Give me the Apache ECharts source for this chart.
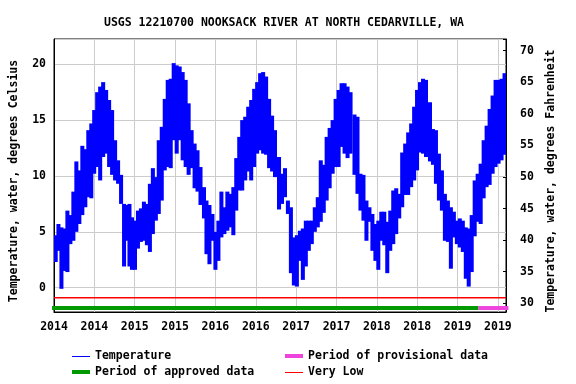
<!DOCTYPE html>
<html><head><meta charset="utf-8">
<script src="https://cdn.jsdelivr.net/npm/echarts@6/dist/echarts.min.js"></script>
<style>html,body{margin:0;padding:0;background:#fff}#c{width:576px;height:384px}</style>
</head><body><div id="c"></div>
<script>
// ---- data (decimal years; temperatures in deg C) ----
const times = [
 2014.021,2014.055,2014.092,2014.129,2014.166,2014.203,2014.240,2014.277,2014.314,2014.351,2014.388,2014.425,2014.462,2014.498,2014.535,2014.572,2014.609,2014.646,2014.683,2014.720,2014.757,2014.794,2014.831,2014.868,2014.905,2014.935,
 2014.966,2015.003,2015.040,2015.077,2015.114,2015.151,2015.188,2015.225,2015.262,2015.298,2015.335,2015.372,2015.409,2015.446,2015.483,2015.520,2015.557,2015.594,2015.631,2015.668,2015.705,2015.742,2015.778,2015.815,2015.858,
 2015.889,2015.926,2015.963,2016.000,2016.037,2016.074,2016.111,2016.148,2016.185,2016.222,2016.258,2016.295,2016.332,2016.369,2016.406,2016.443,2016.480,2016.517,2016.554,2016.591,2016.628,2016.665,2016.702,2016.738,2016.788,
 2016.825,2016.862,2016.898,2016.935,2016.972,2017.009,2017.046,2017.083,2017.120,2017.157,2017.194,2017.231,2017.268,2017.305,2017.342,2017.378,2017.415,2017.452,2017.489,2017.526,2017.563,2017.600,2017.637,2017.674,2017.723,
 2017.760,2017.797,2017.834,2017.871,2017.908,2017.945,2017.982,2018.018,2018.055,2018.092,2018.129,2018.166,2018.203,2018.240,2018.277,2018.314,2018.351,2018.388,2018.425,2018.462,2018.498,2018.535,2018.572,2018.609,2018.658,
 2018.695,2018.732,2018.769,2018.806,2018.843,2018.880,2018.917,2018.954,2018.991,2019.028,2019.065,2019.102,2019.138,2019.175,2019.212,2019.249,2019.286,2019.323,2019.360,2019.397,2019.434,2019.471,2019.508,2019.545,2019.582
];
const tempHigh = [
 4.7,5.7,5.4,5.3,6.9,6.5,8.6,11.3,10.5,12.7,12.4,14.1,14.7,15.9,17.5,18.0,18.4,17.7,16.8,15.9,13.2,11.4,10.1,7.5,7.4,7.5,
 6.3,6.0,6.9,7.1,7.7,7.5,9.3,10.7,9.9,13.2,14.4,16.9,18.6,18.7,20.1,19.9,19.8,19.3,18.6,16.5,14.1,12.9,12.3,10.8,9.0,
 7.8,7.4,6.6,5.0,6.0,8.6,7.2,8.6,8.4,9.0,11.6,13.5,15.0,15.3,16.2,16.8,17.8,18.4,19.2,19.3,18.9,16.9,15.4,14.1,11.7,
 10.2,10.7,7.8,7.2,4.5,4.7,5.1,5.3,6.0,6.0,6.0,7.2,8.1,11.4,11.0,13.5,14.3,15.0,16.9,17.7,18.3,18.3,18.0,17.5,15.5,
 15.3,10.2,10.1,7.8,7.2,6.6,5.7,6.0,6.8,6.8,5.9,6.9,8.7,8.9,8.4,12.1,12.9,13.9,14.7,16.2,17.7,18.4,18.7,18.6,16.6,
 14.2,14.1,12.0,10.5,8.4,7.8,7.2,6.8,6.0,6.2,6.0,5.4,5.3,6.5,9.6,10.2,11.1,13.2,14.5,16.0,17.2,18.6,18.6,18.7,19.2
];
const tempLow = [
 2.3,3.3,-0.1,1.5,1.4,3.9,4.2,5.0,5.7,6.5,7.2,8.1,8.0,10.2,10.8,9.6,11.7,12.0,10.8,10.1,9.6,9.3,7.5,1.9,4.2,1.9,
 1.6,1.6,3.5,4.1,4.2,3.8,3.2,4.8,6.0,6.6,7.8,10.5,10.8,10.7,13.2,12.0,13.2,11.4,10.8,10.1,10.7,8.9,8.6,7.4,6.2,
 3.0,2.1,4.2,1.6,2.4,4.5,4.8,5.1,5.4,4.7,6.9,8.7,8.7,9.6,10.4,9.6,10.8,12.0,12.3,12.0,11.9,10.7,10.4,9.9,7.0,
 7.5,8.1,6.6,1.3,0.2,0.1,2.4,0.7,1.9,3.3,3.9,5.0,5.4,5.9,6.7,7.8,8.9,10.2,10.8,10.8,12.6,12.0,11.6,12.0,10.1,
 8.4,6.9,6.0,4.2,5.9,3.3,2.4,1.6,4.2,3.8,1.3,3.3,3.9,4.8,6.2,7.2,8.3,8.3,9.0,9.6,10.5,12.1,12.0,11.7,11.3,
 11.0,9.3,7.8,6.9,4.2,4.1,1.7,4.5,3.9,3.6,3.2,0.8,0.1,1.4,4.6,5.9,5.7,8.0,9.0,9.2,10.2,10.8,11.1,11.4,11.9
];
const approvedPeriod = [2013.975, 2019.26];
const provisionalPeriod = [2019.26, 2019.63];
const veryLowRange = [2014, 2019.6];
const veryLowValue = -0.9;
const statusBarValue = -1.82;
const titleText = 'USGS 12210700 NOOKSACK RIVER AT NORTH CEDARVILLE, WA';
const leftAxisName = 'Temperature, water, degrees Celsius';
const rightAxisName = 'Temperature, water, degrees Fahrenheit';

// ---- styling ----
const FONT = 'DejaVu Sans Mono';
const txt = {fontFamily: FONT, fontWeight: 'bold', fontSize: 11.5, color: '#000'};
const BAR_W = 0.05; // width of one sampled column, in years
const isMult = (v, s) => Math.abs(v / s - Math.round(v / s)) < 1e-6;

// horizontal segment drawn through the axes' scales: item = [xStart, xEnd, value]
function segmentSeries(name, item, color, width, z) {
  return {
    type: 'custom', name: name, xAxisIndex: 0, yAxisIndex: 0, clip: false, silent: true, z: z,
    itemStyle: {color: color},
    data: [item],
    encode: {x: [0, 1], y: 2},
    renderItem: (params, api) => {
      const a = api.coord([api.value(0), api.value(2)]);
      const b = api.coord([api.value(1), api.value(2)]);
      return {type: 'rect', z2: 10, shape: {x: a[0], y: a[1] - width / 2, width: b[0] - a[0], height: width}, style: {fill: color}};
    }
  };
}

const chart = echarts.init(document.getElementById('c'), null, {renderer: 'canvas'});
const legendBase = {orient: 'horizontal', padding: 0, itemWidth: 18, itemGap: 0, selectedMode: false, icon: 'rect', textStyle: Object.assign({}, txt)};
chart.setOption({
  animation: false,
  backgroundColor: '#fff',
  title: {text: titleText, left: 279, top: 12, textAlign: 'center', textStyle: Object.assign({}, txt)},
  grid: {left: 51, right: 70, top: 39, bottom: 72, show: true, borderColor: '#000', borderWidth: 1, backgroundColor: 'transparent'},
  legend: [
    Object.assign({}, legendBase, {left: 72, top: 350.5, itemHeight: 1, data: ['Temperature']}),
    Object.assign({}, legendBase, {left: 72, top: 366, itemHeight: 4, data: ['Period of approved data']}),
    Object.assign({}, legendBase, {left: 285, top: 350, itemHeight: 4, data: ['Period of provisional data']}),
    Object.assign({}, legendBase, {left: 285, top: 366.5, itemHeight: 1, data: ['Very Low']})
  ],
  xAxis: {
    type: 'value', min: 2014, max: 2019.6, interval: 0.5,
    axisLine: {onZero: false, lineStyle: {color: '#000'}}, axisTick: {show: false},
    splitLine: {show: true, lineStyle: {color: '#cccccc', width: 1}},
    axisLabel: Object.assign({}, txt, {margin: 9, formatter: v => isMult(v, 0.5) ? String(Math.floor(v + 1e-9)) : ''})
  },
  yAxis: [
    {
      type: 'value', min: -2.175, max: 22.26, splitNumber: 5, minInterval: 5, maxInterval: 5, position: 'left',
      name: leftAxisName, nameLocation: 'middle', nameGap: 34, nameRotate: 90,
      nameTextStyle: Object.assign({}, txt, {padding: [0, 11, 0, 0]}),
      axisLine: {show: true, onZero: false, lineStyle: {color: '#000'}}, axisTick: {show: false},
      splitLine: {show: true, lineStyle: {color: '#cccccc', width: 1}},
      axisLabel: Object.assign({}, txt, {margin: 8, formatter: v => isMult(v, 5) ? String(Math.round(v)) : ''})
    },
    {
      type: 'value', min: 28.62, max: 71.85, splitNumber: 9, minInterval: 5, maxInterval: 5, position: 'right',
      name: rightAxisName, nameLocation: 'middle', nameGap: 35, nameRotate: 90,
      nameTextStyle: Object.assign({}, txt, {padding: [0, 11, 0, 0]}),
      axisLine: {show: true, onZero: false, lineStyle: {color: '#000'}},
      axisTick: {show: true, inside: true, length: 3, lineStyle: {color: '#000'}},
      splitLine: {show: false},
      axisLabel: Object.assign({}, txt, {margin: 14, formatter: v => isMult(v, 5) ? String(Math.round(v)) : ''})
    }
  ],
  series: [
    {
      type: 'custom', name: 'Temperature', xAxisIndex: 0, yAxisIndex: 0, clip: true,
      itemStyle: {color: '#0000ff'},
      data: times.map((t, i) => [t, tempHigh[i], tempLow[i]]),
      encode: {x: 0, y: [1, 2]},
      renderItem: (params, api) => {
        const t = api.value(0), hi = api.value(1), lo = api.value(2);
        const p1 = api.coord([t - BAR_W / 2, hi]);
        const p2 = api.coord([t + BAR_W / 2, lo]);
        return {type: 'rect', shape: {x: p1[0], y: p1[1], width: p2[0] - p1[0], height: p2[1] - p1[1]}, style: {fill: '#0000ff'}};
      },
      z: 3
    },
    segmentSeries('Very Low', [veryLowRange[0], veryLowRange[1], veryLowValue], '#ff0000', 1.5, 5),
    segmentSeries('Period of approved data', [approvedPeriod[0], approvedPeriod[1], statusBarValue], '#009900', 4, 4),
    segmentSeries('Period of provisional data', [provisionalPeriod[0], provisionalPeriod[1], statusBarValue], '#ee44dd', 4, 4)
  ]
});
</script>
</body></html>
